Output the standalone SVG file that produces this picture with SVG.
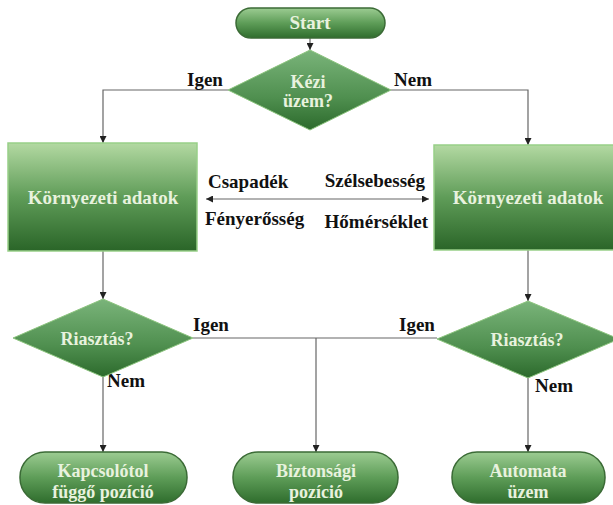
<svg xmlns="http://www.w3.org/2000/svg" width="613" height="505" viewBox="0 0 613 505">
<defs>
<linearGradient id="gBox" x1="0" y1="0" x2="0" y2="1">
<stop offset="0" stop-color="#b3d9a2"/>
<stop offset="0.5" stop-color="#5f9c58"/>
<stop offset="1" stop-color="#2a6528"/>
</linearGradient>
<linearGradient id="gDia" x1="0" y1="0" x2="0" y2="1">
<stop offset="0" stop-color="#7ab47a"/>
<stop offset="0.6" stop-color="#4f8f4f"/>
<stop offset="1" stop-color="#2c6a2c"/>
</linearGradient>
<linearGradient id="gPill" x1="0" y1="0" x2="0" y2="1">
<stop offset="0" stop-color="#9ccc92"/>
<stop offset="0.5" stop-color="#5e9d58"/>
<stop offset="1" stop-color="#2f6d2d"/>
</linearGradient>
<marker id="arr" viewBox="0 0 10 10" refX="10" refY="5" markerWidth="7" markerHeight="7" markerUnits="userSpaceOnUse" orient="auto-start-reverse">
<path d="M0,0 L10,5 L0,10 z" fill="#222"/>
</marker>
</defs>
<style>
.box{fill:url(#gBox);stroke:#98cf88;stroke-width:1.5}
.dia{fill:url(#gDia);stroke:#8cc47e;stroke-width:1}
.pill{fill:url(#gPill);stroke:#3b6b36;stroke-width:1.5}
text{font-family:'Liberation Serif','DejaVu Serif','Times New Roman',serif;font-weight:bold}
.in{fill:#e8f2de;text-anchor:middle}
.lbl{fill:#111;font-size:19px}
.con{fill:none;stroke:#666;stroke-width:1.2}
</style>
<rect width="613" height="505" fill="#ffffff"/>
<g id="connectors">
<path class="con" d="M310,38 L310,50" marker-end="url(#arr)"/>
<path class="con" d="M228,90 L103,90 L103,143" marker-end="url(#arr)"/>
<path class="con" d="M391,90 L528,90 L528,145" marker-end="url(#arr)"/>
<path class="con" d="M206,199 L429,199" marker-start="url(#arr)" marker-end="url(#arr)"/>
<path class="con" d="M103,251 L103,299" marker-end="url(#arr)"/>
<path class="con" d="M528,250 L528,301" marker-end="url(#arr)"/>
<path class="con" d="M103,377 L103,452" marker-end="url(#arr)"/>
<path class="con" d="M528,378 L528,452" marker-end="url(#arr)"/>
<path class="con" d="M193,338 L437,338"/>
<path class="con" d="M316,338 L316,452" marker-end="url(#arr)"/>
<text class="lbl" x="187" y="86">Igen</text>
<text class="lbl" x="394" y="86">Nem</text>
<text class="lbl" x="208" y="188">Csapadék</text>
<text class="lbl" x="205" y="225">Fényerősség</text>
<text class="lbl" x="425" y="187" text-anchor="end">Szélsebesség</text>
<text class="lbl" x="428" y="228" text-anchor="end">Hőmérséklet</text>
<text class="lbl" x="193" y="331">Igen</text>
<text class="lbl" x="399" y="331">Igen</text>
<text class="lbl" x="107" y="387">Nem</text>
<text class="lbl" x="535" y="392">Nem</text>
</g>
<g id="start">
<rect class="pill" x="236" y="8" width="149" height="30" rx="15"/>
<text class="in" x="310" y="29" font-size="19">Start</text>
</g>
<g id="kezi">
<polygon class="dia" points="310,50 391,90 310,130 228,90"/>
<text class="in" x="308" y="88" font-size="18">Kézi</text>
<text class="in" x="308" y="107" font-size="18">üzem?</text>
</g>
<g id="env-left">
<rect class="box" x="8" y="143" width="189" height="108"/>
<text class="in" x="103" y="204" font-size="19">Környezeti adatok</text>
</g>
<g id="env-right">
<rect class="box" x="434" y="145" width="188" height="105"/>
<text class="in" x="528" y="204" font-size="19">Környezeti adatok</text>
</g>
<g id="alarm-left">
<polygon class="dia" points="103,299 193,338 103,377 13,338"/>
<text class="in" x="97" y="345" font-size="18">Riasztás?</text>
</g>
<g id="alarm-right">
<polygon class="dia" points="528,301 619,339 528,378 437,339"/>
<text class="in" x="527" y="346" font-size="18">Riasztás?</text>
</g>
<g id="kapcsolo">
<rect class="pill" x="20" y="452" width="167" height="51" rx="25"/>
<text class="in" x="103" y="477" font-size="18">Kapcsolótol</text>
<text class="in" x="103" y="498" font-size="18">függő pozíció</text>
</g>
<g id="biztonsagi">
<rect class="pill" x="233" y="452" width="165" height="51" rx="25"/>
<text class="in" x="316" y="477" font-size="18">Biztonsági</text>
<text class="in" x="316" y="498" font-size="18">pozíció</text>
</g>
<g id="automata">
<rect class="pill" x="452" y="452" width="153" height="51" rx="25"/>
<text class="in" x="528" y="477" font-size="18">Automata</text>
<text class="in" x="528" y="498" font-size="18">üzem</text>
</g>
</svg>
